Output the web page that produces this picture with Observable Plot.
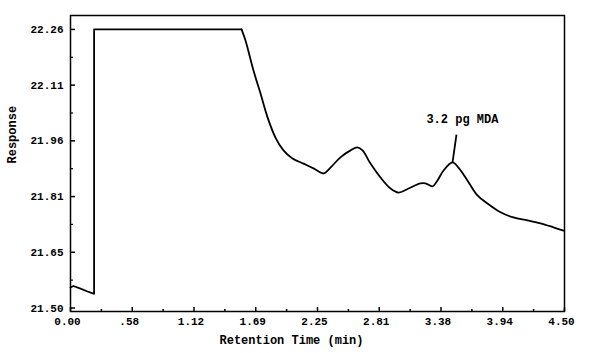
<!DOCTYPE html>
<html>
<head>
<meta charset="utf-8">
<script src="https://cdn.jsdelivr.net/npm/d3@7"></script>
<script src="https://cdn.jsdelivr.net/npm/@observablehq/plot@0.6"></script>
<style>
  html, body { margin: 0; padding: 0; background: #fff; }
  #chart svg { display: block; }
  #chart svg, #chart svg text { font-family: "Liberation Mono", "DejaVu Sans Mono", monospace !important; font-weight: bold; }
</style>
</head>
<body>
<div id="chart"></div>
<script>
// Retention time (min) and detector response
const times = [0, 0.027, 0.091, 0.155, 0.209, 0.215, 0.215, 1.558, 1.594, 1.667, 1.731, 1.795, 1.867, 1.940, 2.022, 2.122, 2.214, 2.305, 2.368, 2.459, 2.551, 2.614, 2.660, 2.733, 2.824, 2.915, 2.988, 3.079, 3.188, 3.234, 3.298, 3.343, 3.398, 3.480, 3.534, 3.616, 3.707, 3.798, 3.917, 4.035, 4.163, 4.281, 4.400, 4.491];
const response = [21.556, 21.560, 21.553, 21.545, 21.539, 21.539, 22.260, 22.260, 22.230, 22.148, 22.085, 22.020, 21.965, 21.930, 21.908, 21.894, 21.881, 21.867, 21.883, 21.911, 21.930, 21.938, 21.930, 21.894, 21.856, 21.826, 21.815, 21.826, 21.840, 21.840, 21.832, 21.848, 21.875, 21.897, 21.883, 21.848, 21.807, 21.785, 21.761, 21.747, 21.739, 21.731, 21.720, 21.711];
const plateauEnd = 1.558; // detector saturated until this time

// Axis ticks (evenly spaced) and their printed labels
const xTicks = [0, 0.5625, 1.125, 1.6875, 2.25, 2.8125, 3.375, 3.9375, 4.5];
const xTickLabels = ["0.00", ".58", "1.12", "1.69", "2.25", "2.81", "3.38", "3.94", "4.50"];
const xMinorTicks = [0.28125, 0.84375, 1.40625, 1.96875, 2.53125, 3.09375, 3.65625, 4.21875];
const yTicks = [21.50, 21.652, 21.804, 21.956, 22.108, 22.26];
const yTickLabels = ["21.50", "21.65", "21.81", "21.96", "22.11", "22.26"];
const yMinorTicks = [21.576, 21.728, 21.880, 22.032, 22.184];

// Annotation: peak point and label
const annoText = ["3.2 pg MDA"];
const annoPeak = [3.48, 21.897];
const annoEnd = [3.516, 21.973];
const annoLabelPos = [3.57, 22.014];

const data = times.map((t, i) => ({t, r: response[i]}));
const saturated = data.filter(d => d.t <= plateauEnd);
const elution = data.filter(d => d.t >= plateauEnd);

const font = "Liberation Mono, DejaVu Sans Mono, monospace";

const chart = Plot.plot({
  width: 600,
  height: 353,
  marginLeft: 70,
  marginRight: 36,
  marginTop: 15,
  marginBottom: 42,
  style: {fontFamily: font, fontSize: "11px", background: "#fff", color: "#000"},
  x: {domain: [0, 4.5]},
  y: {domain: [21.4904, 22.298]},
  marks: [
    Plot.frame({stroke: "#000", strokeWidth: 1.5}),
    // y tick labels
    Plot.axisY({ticks: yTicks, tickSize: 0, tickPadding: 7, label: null, fontFamily: font, fontWeight: "bold",
      tickFormat: (d) => yTickLabels[yTicks.indexOf(d)]}),
    // inward y tick marks
    Plot.axisY({ticks: yTicks, tickSize: 5, dx: 5, text: null, label: null, strokeWidth: 1.5}),
    Plot.axisY({ticks: yMinorTicks, tickSize: 3, dx: 3, text: null, label: null, strokeWidth: 1.2}),
    // x tick labels
    Plot.axisX({ticks: xTicks, tickSize: 0, tickPadding: 6, dx: -3, label: null, fontFamily: font, fontWeight: "bold",
      tickFormat: (d) => xTickLabels[xTicks.indexOf(d)]}),
    // inward x tick marks
    Plot.axisX({ticks: xTicks, tickSize: 4, dy: -4, text: null, label: null, strokeWidth: 1.5}),
    Plot.axisX({ticks: xMinorTicks, tickSize: 2, dy: -2, text: null, label: null, strokeWidth: 1.5}),
    // axis titles
    Plot.text(["Response"], {frameAnchor: "left", rotate: -90, dx: -58, fontSize: 12, fontWeight: "bold", fontFamily: font}),
    Plot.text(["Retention Time (min)"], {frameAnchor: "bottom", dy: 32, dx: -26, fontSize: 12, fontWeight: "bold", fontFamily: font}),
    // chromatogram
    Plot.line(saturated, {x: "t", y: "r", stroke: "#000", strokeWidth: 1.8, curve: "linear"}),
    Plot.line(elution, {x: "t", y: "r", stroke: "#000", strokeWidth: 1.8, curve: "catmull-rom"}),
    // annotation
    Plot.link([0], {x1: () => annoPeak[0], y1: () => annoPeak[1], x2: () => annoEnd[0], y2: () => annoEnd[1], stroke: "#000", strokeWidth: 1.8}),
    Plot.text(annoText, {x: () => annoLabelPos[0], y: () => annoLabelPos[1], text: (d) => d, fontSize: 12, fontWeight: "bold", fontFamily: font})
  ]
});

document.getElementById("chart").appendChild(chart);
</script>
</body>
</html>
